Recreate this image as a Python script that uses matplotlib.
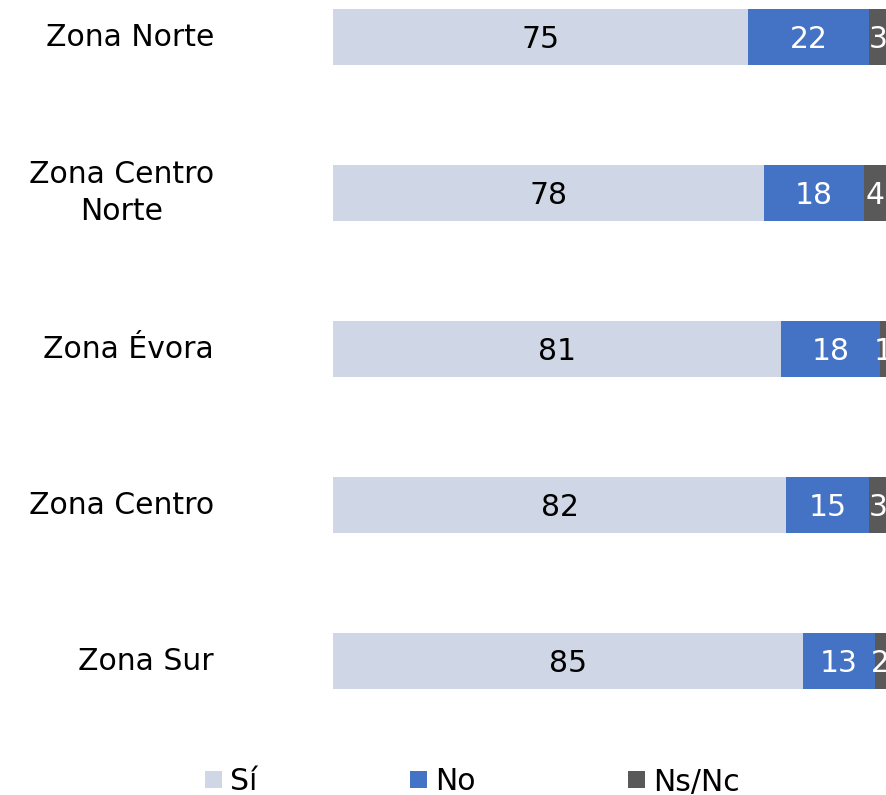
import matplotlib
matplotlib.use("Agg")
import matplotlib.pyplot as plt
from matplotlib.patches import Rectangle

categories = ["Zona Norte", "Zona Centro\nNorte", "Zona Évora", "Zona Centro", "Zona Sur"]
si = [75, 78, 81, 82, 85]
no = [22, 18, 18, 15, 13]
nsnc = [3, 4, 1, 3, 2]
series_names = ["Sí", "No", "Ns/Nc"]
colors = ["#CFD7E6", "#4472C4", "#595959"]
text_colors = ["#000000", "#FFFFFF", "#FFFFFF"]

plt.rcParams['font.family'] = ['DejaVu Sans']
FS = 21.5

W, H = 886, 795
fig = plt.figure(figsize=(W / 100, H / 100), dpi=100)
ax = fig.add_axes([333 / W, 1 - 720 / H, 1 - 333 / W, 720 / H])

ypos = list(range(len(categories)))
left = [0] * len(categories)
for vals, col, tc in zip([si, no, nsnc], colors, text_colors):
    ax.barh(ypos, vals, left=left, height=0.353, color=col, edgecolor='none')
    for y, v, l in zip(ypos, vals, left):
        ax.text(l + v / 2, y, str(v), ha='center', va='center_baseline', fontsize=FS, color=tc)
    left = [a + b for a, b in zip(left, vals)]

ax.set_xlim(0, 100)
ax.set_ylim(4 + (720 - 661) / 156, -37 / 156)
ax.set_yticks(ypos)
ax.set_yticklabels(categories, fontsize=FS, multialignment='center', linespacing=1.38, va='center')
ax.tick_params(axis='y', length=0, pad=119 * 0.72)
ax.set_xticks([])
for s in ax.spines.values():
    s.set_visible(False)

# legend
leg_x = [205, 410, 628]
for x, name, col in zip(leg_x, series_names, colors):
    fig.patches.append(Rectangle((x / W, 1 - 788 / H), 17 / W, 17 / H,
                                 transform=fig.transFigure, facecolor=col, edgecolor='none'))
    fig.text((x + 25) / W, 1 - 779 / H, name, ha='left', va='center_baseline', fontsize=FS)

fig.savefig("out.png", dpi=100)
